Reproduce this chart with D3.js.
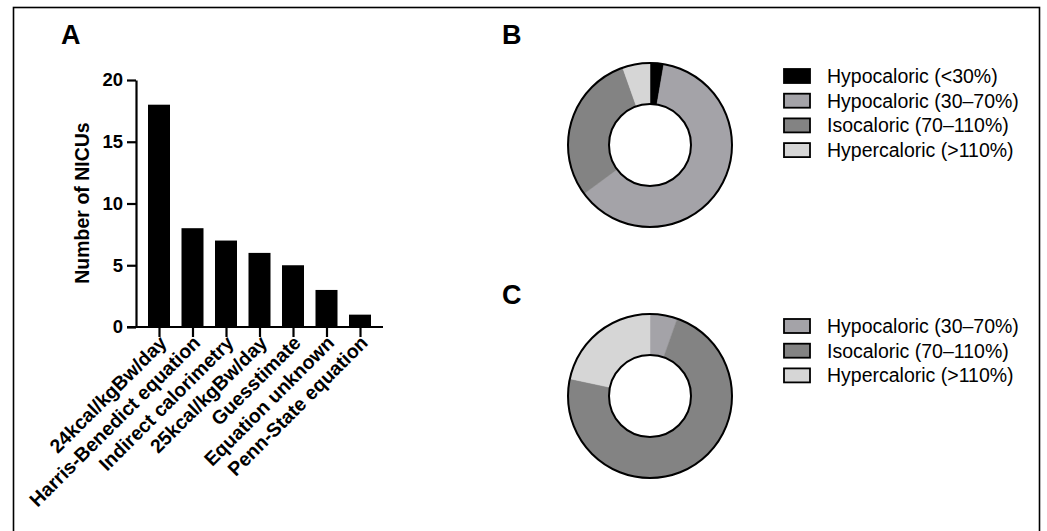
<!DOCTYPE html>
<html>
<head>
<meta charset="utf-8">
<script src="https://cdn.jsdelivr.net/npm/d3@7"></script>
<style>
    body { margin:0; background:#fff; }
    text { font-family: "Liberation Sans", Arial, sans-serif; }
    .bold { font-weight: bold; }
</style>
</head>
<body>
<div id="chart"></div>
<script>
    var width = 1047, height = 531;

    // panel A
    var methods = ["24kcal/kgBw/day", "Harris-Benedict equation", "Indirect calorimetry",
        "25kcal/kgBw/day", "Guesstimate", "Equation unknown", "Penn-State equation"];
    var nicus = [18, 8, 7, 6, 5, 3, 1];
    var yTicks = [0, 5, 10, 15, 20];

    // panels B and C
    var catsB = ["Hypocaloric (<30%)", "Hypocaloric (30\u201370%)", "Isocaloric (70\u2013110%)", "Hypercaloric (>110%)"];
    var valsB = [1, 23, 11, 2];
    var catsC = ["Hypocaloric (30\u201370%)", "Isocaloric (70\u2013110%)", "Hypercaloric (>110%)"];
    var valsC = [2, 27, 8];

    var colour = d3.scaleOrdinal()
        .domain(catsB)
        .range(["#000000", "#a4a3a8", "#838383", "#d6d6d6"]);

    var svg = d3.select("#chart").append("svg")
        .attr("width", width).attr("height", height);

    // frame
    svg.append("rect")
        .attr("x", 13.5).attr("y", 7.5)
        .attr("width", 1026).attr("height", 540)
        .attr("fill", "none").attr("stroke", "#000").attr("stroke-width", 1.6);

    // ---- A: bars
    var y = d3.scaleLinear().domain([0, 20]).range([327, 80]);
    var x = d3.scalePoint().domain(methods).range([159, 360]);
    var barW = 22;

    var gA = svg.append("g");
    gA.append("text").attr("class", "bold")
        .attr("x", 61).attr("y", 44).attr("font-size", 27).text("A");

    gA.selectAll("rect.bar").data(nicus).enter().append("rect")
        .attr("class", "bar")
        .attr("x", function(d, i) { return x(methods[i]) - barW / 2; })
        .attr("y", function(d) { return y(d); })
        .attr("width", barW)
        .attr("height", function(d) { return y(0) - y(d); })
        .attr("fill", "#000");

    var yAxis = gA.append("g")
        .attr("transform", "translate(136,0)")
        .call(d3.axisLeft(y).tickValues(yTicks).tickSize(9).tickPadding(4).tickSizeOuter(0));
    yAxis.select(".domain").attr("stroke-width", 2.2);
    yAxis.selectAll(".tick line").attr("stroke-width", 2.2);
    yAxis.selectAll(".tick text").attr("class", "bold")
        .attr("font-size", 18.5).attr("fill", "#000")
        .style("font-family", "Liberation Sans, Arial, sans-serif");

    var xAxis = gA.append("g")
        .attr("transform", "translate(0,327)")
        .call(d3.axisBottom(x).tickSize(10).tickSizeOuter(0).tickFormat(""));
    xAxis.select(".domain").remove();
    xAxis.selectAll(".tick line").attr("stroke-width", 2.2);
    gA.append("line")
        .attr("x1", 127).attr("x2", 383).attr("y1", 327).attr("y2", 327)
        .attr("stroke", "#000").attr("stroke-width", 2.2);

    gA.selectAll("text.xl").data(methods).enter().append("text")
        .attr("class", "xl bold")
        .attr("font-size", 19.5)
        .attr("text-anchor", "end")
        .attr("transform", function(d) {
            return "translate(" + (x(d) + 9) + ",344) rotate(-45)";
        })
        .text(function(d) { return d; });

    gA.append("text").attr("class", "bold")
        .attr("font-size", 19.5)
        .attr("text-anchor", "middle")
        .attr("transform", "translate(89,203) rotate(-90)")
        .text("Number of NICUs");

    // ---- B and C: donuts
    function donut(label, cats, vals, cx, cy, labelY, legendY) {
        var g = svg.append("g");
        g.append("text").attr("class", "bold")
            .attr("x", 502).attr("y", labelY).attr("font-size", 27).text(label);

        var data = cats.map(function(c, i) { return {cat: c, v: vals[i]}; });
        var pie = d3.pie().sort(null).value(function(d) { return d.v; });
        var arc = d3.arc().innerRadius(41).outerRadius(82);
        var dg = g.append("g").attr("transform", "translate(" + cx + "," + cy + ")");
        dg.selectAll("path").data(pie(data)).enter().append("path")
            .attr("d", arc)
            .attr("fill", function(d) { return colour(d.data.cat); })
            .attr("stroke", function(d) { return colour(d.data.cat); })
            .attr("stroke-width", 0.5);
        dg.append("circle").attr("r", 82).attr("fill", "none")
            .attr("stroke", "#000").attr("stroke-width", 2);
        dg.append("circle").attr("r", 41).attr("fill", "none")
            .attr("stroke", "#000").attr("stroke-width", 2);

        var lg = g.selectAll("g.leg").data(cats).enter().append("g")
            .attr("class", "leg")
            .attr("transform", function(d, i) { return "translate(784," + (legendY + i * 24.7) + ")"; });
        lg.append("rect")
            .attr("x", 0).attr("y", -7).attr("width", 26).attr("height", 14)
            .attr("fill", function(d) { return colour(d); })
            .attr("stroke", "#000").attr("stroke-width", 1.8);
        lg.append("text")
            .attr("x", 43).attr("y", 7)
            .attr("font-size", 19.5)
            .text(function(d) { return d; });
    }

    donut("B", catsB, valsB, 650, 145, 44, 76);
    donut("C", catsC, valsC, 650, 396, 304, 326);
</script>
</body>
</html>
